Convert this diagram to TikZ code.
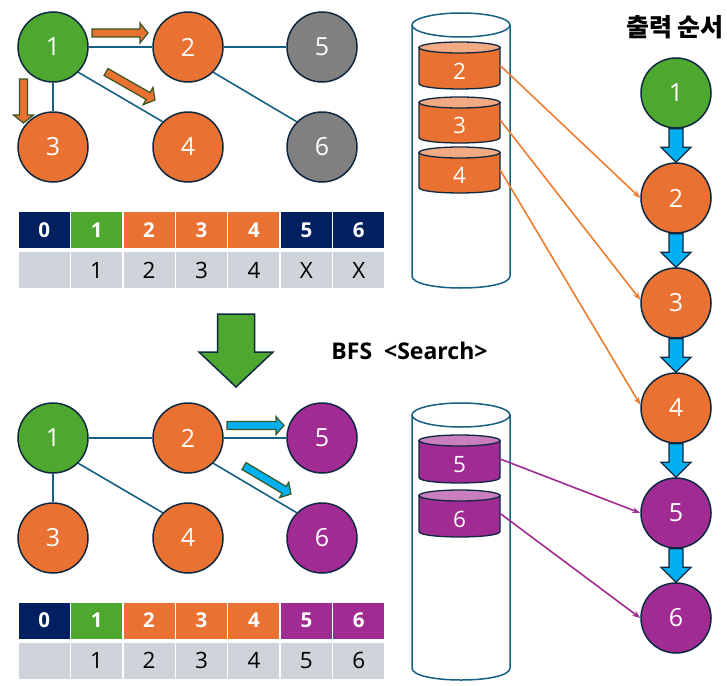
\documentclass[tikz,border=0pt]{standalone}
\usepackage{fontspec}
\setmainfont{Open Sans}
\newfontfamily\krfont{Noto Sans CJK KR}
\usetikzlibrary{calc,arrows.meta}
\definecolor{cgreen}{HTML}{4EA72E}
\definecolor{corange}{HTML}{E97132}
\definecolor{cgrey}{HTML}{808080}
\definecolor{cpurple}{HTML}{A02B93}
\definecolor{cnavy}{HTML}{002060}
\definecolor{ccell}{HTML}{CFD4DA}
\definecolor{coutl}{HTML}{0E2841}
\definecolor{cedge}{HTML}{156082}
\definecolor{ccyan}{HTML}{00B0F0}
\definecolor{cagreen}{HTML}{375623}
\definecolor{csalmon}{HTML}{F2AA84}
\definecolor{clpurple}{HTML}{C97FBE}
\definecolor{cconn}{HTML}{ED7D31}
\newcommand\blockarr[6]{%
  \coordinate (bac) at ($(#2)!#5!(#1)$);
  \filldraw[#6] ($(#1)!#3!90:(#2)$) -- ($(bac)!#3!90:(#2)$) -- ($(bac)!#4!90:(#2)$) -- (#2)
    -- ($(bac)!#4!-90:(#2)$) -- ($(bac)!#3!-90:(#2)$) -- ($(#1)!#3!-90:(#2)$) -- cycle;
}
% name, cx, yt, yb, text, body colour, top colour
\newcommand\qitem[7]{%
  \filldraw[fill=#6, qline] ({#2-40.5},#3) -- ({#2-40.5},#4)
    .. controls ({#2-40.5},{#4+7.3}) and ({#2+40.5},{#4+7.3}) .. ({#2+40.5},#4)
    -- ({#2+40.5},#3) -- cycle;
  \filldraw[fill=#7, qline] (#2,#3) ellipse [x radius=40.5, y radius=5.5];
  \node[qanchor, minimum height={#4-#3}] (#1) at (#2,{(#3+#4)/2}) {};
  \node[qtext] (#1t) at (#2,{(#3+#4)/2+5.5}) {#5};
}
\newcommand\bigcyl[3]{% cx, ytop centre, ybottom centre
  \filldraw[fill=white, cylline] ({#1-49},#2) -- ({#1-49},#3)
    .. controls ({#1-49},{#3+16}) and ({#1+49},{#3+16}) .. ({#1+49},#3)
    -- ({#1+49},#2);
  \draw[cylline] (#1,#2) ellipse [x radius=49, y radius=12];
}
\tikzset{
  vert/.style={circle, draw=coutl, line width=1.5pt, minimum size=70pt, inner sep=0pt,
    text=white, font=\fontsize{25}{29}\selectfont},
  gedge/.style={draw=cedge, line width=1.6pt},
  hcell/.style={minimum width=51pt, minimum height=36pt, inner sep=0pt, text=white,
    font=\bfseries\fontsize{20.5}{22}\selectfont},
  vcell/.style={fill=ccell, minimum width=51pt, minimum height=36pt, inner sep=0pt,
    text=black, font=\fontsize{22.5}{24}\selectfont},
  qline/.style={draw=coutl, line width=1.3pt},
  cylline/.style={draw=cedge, line width=1.5pt},
  qanchor/.style={rectangle, minimum width=81pt, inner sep=0pt},
  qtext/.style={inner sep=0pt, text=white, font=\fontsize{22.5}{26}\selectfont},
  oarrow/.style={fill=corange, draw=cagreen, line width=1.2pt},
  barrow/.style={fill=ccyan, draw=cagreen, line width=1.2pt},
  carrow/.style={fill=ccyan, draw=coutl, line width=1.3pt},
  garrow/.style={fill=cgreen, draw=coutl, line width=1.5pt},
  oconn/.style={draw=cconn, line width=1.6pt, -{Stealth[length=8pt,width=6pt]}},
  pconn/.style={draw=cpurple, line width=1.6pt, -{Stealth[length=8pt,width=6pt]}},
  title/.style={inner sep=0pt, font=\bfseries\fontsize{23}{27}\selectfont},
}
\begin{document}
\begin{tikzpicture}[x=1pt,y=-1pt]
\useasboundingbox (0,0) rectangle (727,685);

% ---------- top graph ----------
\node[vert, fill=cgreen]  (a1) at (53,47)  {1};
\node[vert, fill=corange] (a2) at (188,47) {2};
\node[vert, fill=cgrey]   (a5) at (322,47) {5};
\node[vert, fill=corange] (a3) at (53,147) {3};
\node[vert, fill=corange] (a4) at (188,147) {4};
\node[vert, fill=cgrey]   (a6) at (322,147) {6};
\draw[gedge] (a1) -- (a2);
\draw[gedge] (a2) -- (a5);
\draw[gedge] (a1.south) -- (a3.north);
\draw[gedge] (a1.south east) -- (a4.north west);
\draw[gedge] (a2.south east) -- (a6.north west);
\coordinate (o1s) at (92,33);  \coordinate (o1e) at (148,33);
\coordinate (o2s) at (106,72); \coordinate (o2e) at (155,100);
\coordinate (o3s) at (23.5,79); \coordinate (o3e) at (23.5,123);
\blockarr{o1s}{o1e}{4pt}{10pt}{8pt}{oarrow}
\blockarr{o2s}{o2e}{4pt}{10pt}{8pt}{oarrow}
\blockarr{o3s}{o3e}{4pt}{10pt}{8pt}{oarrow}

% ---------- top table ----------
\foreach \i/\c/\v in {0/cnavy/{},1/cgreen/1,2/corange/2,3/corange/3,4/corange/4,5/cnavy/X,6/cnavy/X}{
  \node[hcell, fill=\c] (th\i) at ({18+52.43*(\i+0.5)},230) {\i};
  \node[vcell] (tv\i) at ({18+52.43*(\i+0.5)},270) {\v};
}

% ---------- big arrow and title ----------
\coordinate (gs) at (236,314); \coordinate (ge) at (236,387);
\blockarr{gs}{ge}{18.5pt}{37pt}{35pt}{garrow}
\node[title] (bfs) at (409.5,351) {BFS\ \ <Search>};
\node[title, font=\krfont\bfseries\fontsize{25}{29}\selectfont] (ordt) at (675,27) {출력 순서};

% ---------- bottom graph ----------
\node[vert, fill=cgreen]   (b1) at (53,438)  {1};
\node[vert, fill=corange]  (b2) at (188,438) {2};
\node[vert, fill=cpurple]  (b5) at (322,438) {5};
\node[vert, fill=corange]  (b3) at (53,538)  {3};
\node[vert, fill=corange]  (b4) at (188,538) {4};
\node[vert, fill=cpurple]  (b6) at (322,538) {6};
\draw[gedge] (b1) -- (b2);
\draw[gedge] (b2) -- (b5);
\draw[gedge] (b1.south) -- (b3.north);
\draw[gedge] (b1.south east) -- (b4.north west);
\draw[gedge] (b2.south east) -- (b6.north west);
\coordinate (c1s) at (227,425.5); \coordinate (c1e) at (284,425.5);
\coordinate (c2s) at (244,466);   \coordinate (c2e) at (291,494);
\blockarr{c1s}{c1e}{4pt}{9pt}{8pt}{barrow}
\blockarr{c2s}{c2e}{4pt}{9pt}{8pt}{barrow}

% ---------- bottom table ----------
\foreach \i/\c/\v in {0/cnavy/{},1/cgreen/1,2/corange/2,3/corange/3,4/corange/4,5/cpurple/5,6/cpurple/6}{
  \node[hcell, fill=\c] (bh\i) at ({18+52.43*(\i+0.5)},620.5) {\i};
  \node[vcell] (bv\i) at ({18+52.43*(\i+0.5)},660.5) {\v};
}

% ---------- queues ----------
\bigcyl{461}{25}{276}
\qitem{q2}{459.5}{47.5}{83.5}{2}{corange}{csalmon}
\qitem{q3}{459.5}{102.5}{137.5}{3}{corange}{csalmon}
\qitem{q4}{459.5}{152.5}{187.5}{4}{corange}{csalmon}
\bigcyl{461}{415}{668}
\qitem{q5}{459.5}{440.5}{477.5}{5}{cpurple}{clpurple}
\qitem{q6}{459.5}{495.5}{531.5}{6}{cpurple}{clpurple}

% ---------- output order ----------
\node[vert, fill=cgreen]  (r1) at (676,93)  {1};
\node[vert, fill=corange] (r2) at (676,198) {2};
\node[vert, fill=corange] (r3) at (676,303) {3};
\node[vert, fill=corange] (r4) at (676,408) {4};
\node[vert, fill=cpurple] (r5) at (676,513) {5};
\node[vert, fill=cpurple] (r6) at (676,618) {6};
\blockarr{r1.south}{r2.north}{7pt}{15pt}{15pt}{carrow}
\blockarr{r2.south}{r3.north}{7pt}{15pt}{15pt}{carrow}
\blockarr{r3.south}{r4.north}{7pt}{15pt}{15pt}{carrow}
\blockarr{r4.south}{r5.north}{7pt}{15pt}{15pt}{carrow}
\blockarr{r5.south}{r6.north}{7pt}{15pt}{15pt}{carrow}

\draw[oconn] (q2.east) -- (r2.west);
\draw[oconn] (q3.east) -- (r3.175);
\draw[oconn] (q4.east) -- (r4.175);
\draw[pconn] (q5.east) -- (r5.west);
\draw[pconn] (q6.east) -- (r6.west);
\end{tikzpicture}
\end{document}
